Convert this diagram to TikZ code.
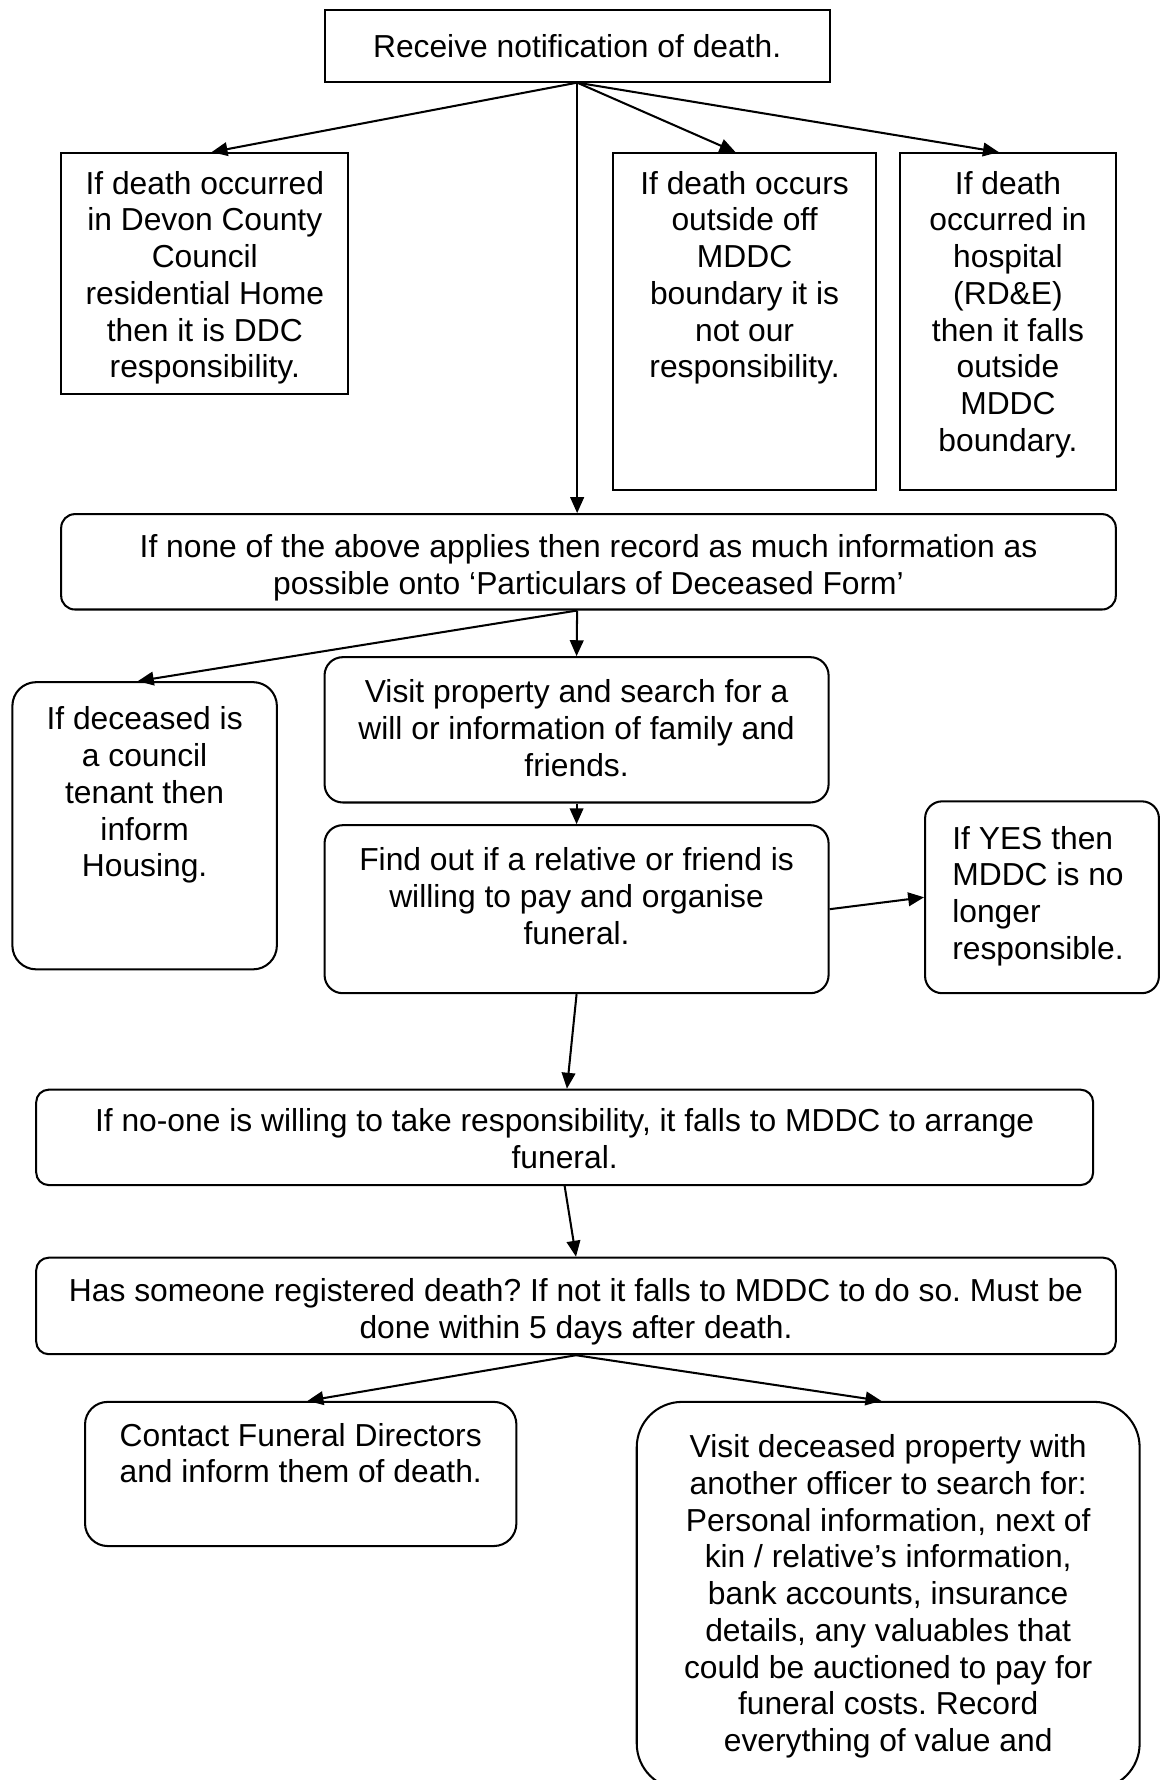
\documentclass[tikz,border=0pt]{standalone}
\usepackage{fontspec}
\setmainfont{Liberation Sans}
\usetikzlibrary{arrows.meta}
\frenchspacing
\newcommand{\flowtext}[4]{\parbox[c][#1][t]{#2}{\centering\rule{0pt}{#3}#4}}

\begin{document}
\begin{tikzpicture}[x=0.5pt, y=-0.5pt,
  bx/.style={draw, line width=0.9pt, inner sep=0pt, anchor=north west,
             font=\fontsize{14pt}{16.2pt}\selectfont},
  rb/.style={bx, rounded corners=#1}, rb/.default=6pt,
  ar/.style={-{Triangle[length=7pt, width=6pt]}, line width=0.9pt},
]
\useasboundingbox (0,0) rectangle (1021,1568);

\node[bx, minimum width=222.5pt, minimum height=31.5pt] (top) at (285,8) {Receive notification of death.};
\node[bx] (a) at (53,134) {\flowtext{106pt}{126.5pt}{18pt}{If death occurred\\in Devon County\\Council\\residential Home\\then it is DDC\\responsibility.}};
\node[bx] (b) at (539,134) {\flowtext{148.5pt}{116pt}{18pt}{If death occurs\\outside off\\MDDC\\boundary it is\\not our\\responsibility.}};
\node[bx] (c) at (792,134) {\flowtext{148.5pt}{95pt}{18pt}{If death\\occurred in\\hospital\\(RD\&E)\\then it falls\\outside\\MDDC\\boundary.}};
\node[rb] (d) at (53,452) {\flowtext{42pt}{464.5pt}{19pt}{If none of the above applies then record as much information as\\possible onto ‘Particulars of Deceased Form’}};
\node[rb=10.5pt] (e) at (10,600) {\flowtext{126.5pt}{116.5pt}{21pt}{If deceased is\\a council\\tenant then\\inform\\Housing.}};
\node[rb=8pt] (f) at (285,578) {\flowtext{64pt}{222pt}{20pt}{Visit property and search for a\\will or information of family and\\friends.}};
\node[rb=8pt] (g) at (285,726) {\flowtext{74pt}{222pt}{20pt}{Find out if a relative or friend is\\willing to pay and organise\\funeral.}};
\node[rb=7.5pt] (h) at (814,705) {\parbox[c][84.5pt][t]{103pt}{\raggedright\leftskip=12pt\rule{0pt}{21pt}If YES then\\MDDC is no\\longer\\responsible.}};
\node[rb=5.5pt] (i) at (31,959) {\flowtext{42pt}{465.5pt}{18.5pt}{If no-one is willing to take responsibility, it falls to MDDC to arrange\\funeral.}};
\node[rb=5.5pt] (j) at (31,1107) {\flowtext{42.5pt}{475.5pt}{19.5pt}{Has someone registered death? If not it falls to MDDC to do so. Must be\\done within 5 days after death.}};
\node[rb=10pt] (k) at (74,1234) {\flowtext{63.5pt}{190pt}{19.5pt}{Contact Funeral Directors\\and inform them of death.}};
\node[rb=20pt] (l) at (560,1234) {\flowtext{170.5pt}{221.5pt}{24.5pt}{Visit deceased property with\\another officer to search for:\\Personal information, next of\\kin / relative’s information,\\bank accounts, insurance\\details, any valuables that\\could be auctioned to pay for\\funeral costs. Record\\everything of value and}};

\draw[ar] (top.south) -- ([xshift=3pt]a.north);
\draw[ar] (top.south) -- ([xshift=-4pt]b.north);
\draw[ar] (top.south) -- ([xshift=-4pt]c.north);
\draw[ar] (top.south) -- (top.south |- d.north);
\draw[ar] (top.south |- d.south) -- ([xshift=-3pt]e.north);
\draw[ar] (top.south |- d.south) -- (f.north);
\draw[ar] (f.south) -- (g.north);
\draw[ar] (g.east) -- (h.west);
\draw[ar] (g.south) -- ([xshift=1pt]i.north);
\draw[ar] (i.south) -- (j.north);
\draw[ar] (j.south) -- ([xshift=3pt]k.north);
\draw[ar] (j.south) -- ([xshift=-3pt]l.north);
\end{tikzpicture}
\end{document}
